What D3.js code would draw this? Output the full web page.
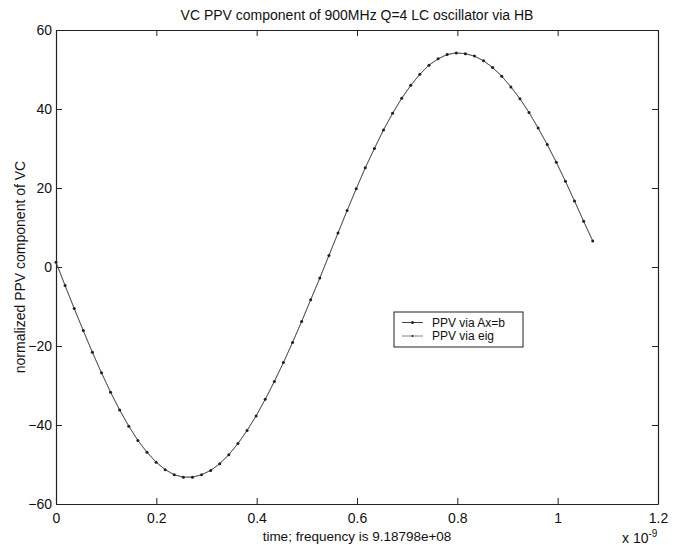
<!DOCTYPE html>
<html>
<head>
<meta charset="utf-8">
<script src="https://cdn.jsdelivr.net/npm/d3@7"></script>
<style>
  body { margin: 0; background: #fff; }
  text { font-family: "Liberation Sans", Arial, sans-serif; fill: #111; }
</style>
</head>
<body>
<div id="wrapper"></div>
<script>
// time samples (units of 1e-9 s)
const timeVals = [0, 0.0181, 0.0363, 0.0544, 0.0725, 0.0907, 0.1088, 0.1269, 0.1451, 0.1632,
  0.1813, 0.1995, 0.2176, 0.2357, 0.2539, 0.2720, 0.2901, 0.3083, 0.3264, 0.3445,
  0.3627, 0.3808, 0.3989, 0.4171, 0.4352, 0.4533, 0.4715, 0.4896, 0.5077, 0.5259,
  0.5440, 0.5621, 0.5803, 0.5984, 0.6165, 0.6347, 0.6528, 0.6709, 0.6891, 0.7072,
  0.7253, 0.7435, 0.7616, 0.7797, 0.7979, 0.8160, 0.8341, 0.8523, 0.8704, 0.8885,
  0.9067, 0.9248, 0.9429, 0.9611, 0.9792, 0.9973, 1.0155, 1.0336, 1.0517, 1.0699]

// normalized PPV, via Ax=b
const ppvAxb = [1.2, -4.7, -10.5, -16.1, -21.6, -26.8, -31.7, -36.2, -40.3, -43.9,
  -46.9, -49.4, -51.3, -52.6, -53.2, -53.2, -52.6, -51.5, -49.8, -47.5,
  -44.7, -41.4, -37.7, -33.5, -29.0, -24.2, -19.1, -13.8, -8.3, -2.8,
  2.9, 8.6, 14.3, 19.8, 25.1, 30.0, 34.7, 38.9, 42.7, 46.0,
  48.8, 51.1, 52.7, 53.8, 54.2, 54.0, 53.4, 52.2, 50.5, 48.3,
  45.6, 42.6, 39.1, 35.2, 31.0, 26.5, 21.7, 16.7, 11.6, 6.6]

// normalized PPV, via eig (same curve to plotting precision)
const ppvEig = [1.2, -4.7, -10.5, -16.1, -21.6, -26.8, -31.7, -36.2, -40.3, -43.9,
  -46.9, -49.4, -51.3, -52.6, -53.2, -53.2, -52.6, -51.5, -49.8, -47.5,
  -44.7, -41.4, -37.7, -33.5, -29.0, -24.2, -19.1, -13.8, -8.3, -2.8,
  2.9, 8.6, 14.3, 19.8, 25.1, 30.0, 34.7, 38.9, 42.7, 46.0,
  48.8, 51.1, 52.7, 53.8, 54.2, 54.0, 53.4, 52.2, 50.5, 48.3,
  45.6, 42.6, 39.1, 35.2, 31.0, 26.5, 21.7, 16.7, 11.6, 6.6]

const xTicks = [0, 0.2, 0.4, 0.6, 0.8, 1, 1.2]
const yTicks = [-60, -40, -20, 0, 20, 40, 60]
const legendLabels = ["PPV via Ax=b", "PPV via eig"]

function drawChart() {
  let dimensions = {
    width: 677,
    height: 545,
    margin: { top: 30, right: 19, bottom: 41, left: 56 },
  }
  dimensions.boundedWidth = dimensions.width - dimensions.margin.left - dimensions.margin.right
  dimensions.boundedHeight = dimensions.height - dimensions.margin.top - dimensions.margin.bottom

  const svg = d3.select("#wrapper").append("svg")
    .attr("width", dimensions.width)
    .attr("height", dimensions.height)

  const bounds = svg.append("g")
    .attr("transform", `translate(${dimensions.margin.left},${dimensions.margin.top})`)

  const xScale = d3.scaleLinear().domain([0, 1.2]).range([0, dimensions.boundedWidth])
  const yScale = d3.scaleLinear().domain([-60, 60]).range([dimensions.boundedHeight, 0])

  const tickFmt = (d) => d3.format("")(+d.toFixed(1))

  // axes: MATLAB style, ticks inward on all sides
  bounds.append("g")
    .attr("transform", `translate(0,${dimensions.boundedHeight})`)
    .call(d3.axisBottom(xScale).tickValues(xTicks).tickSizeInner(-6).tickSizeOuter(0).tickPadding(9).tickFormat(tickFmt))
  bounds.append("g")
    .call(d3.axisTop(xScale).tickValues(xTicks).tickSizeInner(-6).tickSizeOuter(0).tickFormat(""))
  bounds.append("g")
    .call(d3.axisLeft(yScale).tickValues(yTicks).tickSizeInner(-6).tickSizeOuter(0).tickPadding(4))
  bounds.append("g")
    .attr("transform", `translate(${dimensions.boundedWidth},0)`)
    .call(d3.axisRight(yScale).tickValues(yTicks).tickSizeInner(-6).tickSizeOuter(0).tickFormat(""))

  bounds.selectAll(".domain").attr("stroke", "#222").attr("stroke-width", 1.2)
  bounds.selectAll(".tick line").attr("stroke", "#222")
  bounds.selectAll(".tick text").style("font-size", "14px").attr("fill", "#111")

  const lineGen = d3.line()
    .x((d, i) => xScale(timeVals[i]))
    .y((d) => yScale(d))

  // PPV via eig
  bounds.append("path")
    .datum(ppvEig)
    .attr("fill", "none")
    .attr("stroke", "#666")
    .attr("stroke-width", 0.8)
    .attr("d", lineGen)
  bounds.append("g").selectAll("circle")
    .data(ppvEig)
    .join("circle")
      .attr("cx", (d, i) => xScale(timeVals[i]))
      .attr("cy", (d) => yScale(d))
      .attr("r", 1)
      .attr("fill", "#555")

  // PPV via Ax=b
  bounds.append("path")
    .datum(ppvAxb)
    .attr("fill", "none")
    .attr("stroke", "#444")
    .attr("stroke-width", 0.7)
    .attr("d", lineGen)
  bounds.append("g").selectAll("circle")
    .data(ppvAxb)
    .join("circle")
      .attr("cx", (d, i) => xScale(timeVals[i]))
      .attr("cy", (d) => yScale(d))
      .attr("r", 1.5)
      .attr("fill", "#222")

  // legend
  const legend = svg.append("g").attr("transform", "translate(394,312)")
  legend.append("rect")
    .attr("width", 129).attr("height", 35)
    .attr("fill", "#fff").attr("stroke", "#222").attr("stroke-width", 1)
  legendLabels.forEach((label, i) => {
    const y = 10.5 + i * 13.5
    legend.append("line")
      .attr("x1", 8).attr("x2", 29).attr("y1", y).attr("y2", y)
      .attr("stroke", i == 0 ? "#333" : "#777").attr("stroke-width", 0.9)
    legend.append("circle")
      .attr("cx", 18.5).attr("cy", y).attr("r", i == 0 ? 1.5 : 1)
      .attr("fill", "#222")
    legend.append("text")
      .attr("x", 38).attr("y", y + 4.3)
      .style("font-size", "12px")
      .text(label)
  })

  // title & labels
  svg.append("text")
    .attr("x", dimensions.margin.left + dimensions.boundedWidth / 2)
    .attr("y", 20)
    .attr("text-anchor", "middle")
    .style("font-size", "14px")
    .text("VC PPV component of 900MHz Q=4 LC oscillator via HB")

  svg.append("text")
    .attr("x", dimensions.margin.left + dimensions.boundedWidth / 2)
    .attr("y", 541)
    .attr("text-anchor", "middle")
    .style("font-size", "13.5px")
    .text("time; frequency is 9.18798e+08")

  svg.append("text")
    .attr("transform", `translate(25,${dimensions.margin.top + dimensions.boundedHeight / 2}) rotate(-90)`)
    .attr("text-anchor", "middle")
    .style("font-size", "14px")
    .text("normalized PPV component of VC")

  const expo = svg.append("text")
    .attr("x", 622).attr("y", 543)
    .style("font-size", "14px")
  expo.append("tspan").text("x 10")
  expo.append("tspan").attr("dy", -6).style("font-size", "10px").text("-9")
}

drawChart()
</script>
</body>
</html>
